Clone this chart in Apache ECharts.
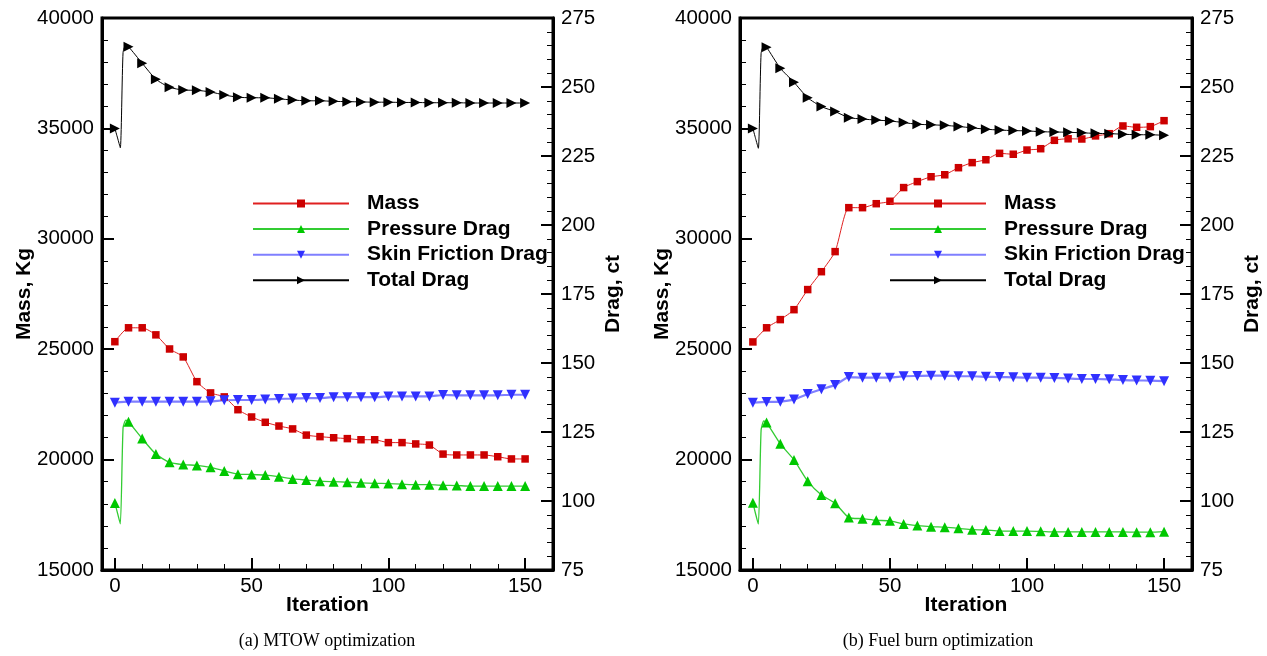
<!DOCTYPE html>
<html>
<head>
<meta charset="utf-8">
<script src="https://cdn.jsdelivr.net/npm/echarts@6/dist/echarts.min.js"></script>
<style>
html,body{margin:0;padding:0;background:#fff;}
#chart{width:1267px;height:656px;}
</style>
</head>
<body>
<div id="chart"></div>
<script>
// ---------- data ----------
const iterations = [0,5,10,15,20,25,30,35,40,45,50,55,60,65,70,75,80,85,90,95,100,105,110,115,120,125,130,135,140,145,150];
const xMajorTicks = [0,50,100,150];
const xMinorTicks = [10,20,30,40,60,70,80,90,110,120,130,140];
const seriesNames = ['Mass','Pressure Drag','Skin Friction Drag','Total Drag'];
const captionA = '(a) MTOW optimization';
const captionB = '(b) Fuel burn optimization';

// (a) MTOW optimization
const massA = [25340,25970,25970,25650,25010,24650,23530,23020,22840,22260,21930,21690,21520,21390,21110,21040,20990,20950,20900,20900,20770,20770,20710,20660,20250,20210,20210,20210,20130,20030,20030];
const pressA = [99.3,128.7,122.6,117.0,114.0,113.2,112.9,112.2,110.9,109.7,109.6,109.4,108.8,108.0,107.6,107.2,107.0,106.8,106.6,106.4,106.3,106.1,105.9,105.9,105.7,105.6,105.4,105.4,105.4,105.4,105.4];
const skinA = [135.6,136.0,136.0,136.0,136.0,136.0,136.0,136.1,136.5,136.6,136.6,136.8,137.0,137.1,137.3,137.3,137.6,137.6,137.6,137.6,137.9,137.9,137.9,137.9,138.4,138.3,138.3,138.3,138.3,138.5,138.5];
const totalA = [235.0,264.6,258.6,252.8,249.9,248.9,248.8,248.2,247.1,246.3,246.1,246.1,245.7,245.3,245.0,245.0,244.8,244.7,244.6,244.5,244.5,244.4,244.4,244.3,244.3,244.3,244.2,244.2,244.2,244.2,244.2];
// intermediate (unmarked) iterations
const pressAExtra = [[1,95.5],[2,91.7],[3,126.5],[4,129.3]];
const totalAExtra = [[1,231.5],[2,228.0],[3,262.5],[4,265.3]];

// (b) Fuel burn optimization
const massB = [25330,25970,26340,26790,27700,28510,29420,31410,31410,31590,31700,32320,32590,32810,32900,33220,33450,33580,33870,33830,34020,34080,34460,34530,34520,34660,34760,35110,35050,35080,35350];
const pressB = [99.4,128.4,120.7,114.9,107.2,102.2,99.2,94.0,93.6,93.0,92.8,91.7,91.1,90.7,90.5,90.1,89.6,89.5,89.1,89.1,89.1,89.0,88.8,88.8,88.8,88.8,88.8,88.8,88.7,88.7,88.9];
const skinB = [135.6,135.9,136.0,136.8,138.8,140.5,142.0,144.9,144.7,144.7,144.7,145.2,145.3,145.4,145.4,145.2,145.2,145.0,144.9,144.8,144.7,144.7,144.6,144.4,144.2,144.2,144.1,143.8,143.7,143.6,143.4];
const totalB = [235.0,264.4,256.8,251.7,246.1,242.9,241.1,238.9,238.4,238.0,237.7,237.1,236.5,236.3,236.1,235.7,235.2,234.7,234.4,234.2,234.1,233.8,233.7,233.6,233.4,233.2,233.1,232.9,232.7,232.7,232.5];
const pressBExtra = [[1,95.3],[2,91.6],[3,125.7],[4,129.0]];
const totalBExtra = [[1,231.3],[2,227.8],[3,262.2],[4,265.0]];

// ---------- helpers ----------
const SANS = '"Liberation Sans", Arial, Helvetica, sans-serif';
function buildData(vals, extra) {
  const pts = iterations.map((it, i) => ({ value: [it, vals[i]] }));
  (extra || []).forEach(p => pts.push({ value: [p[0], p[1]], symbol: 'none' }));
  pts.sort((a, b) => a.value[0] - b.value[0]);
  return pts;
}
const styles = {
  'Mass': { symbol: 'rect', symbolSize: 7.5, symbolRotate: 0, marker: '#cc0000', line: '#e02020', width: 1 },
  'Pressure Drag': { symbol: 'triangle', symbolSize: 10, symbolRotate: 0, marker: '#00c800', line: '#33cc33', width: 1.3 },
  'Skin Friction Drag': { symbol: 'triangle', symbolSize: 10, symbolRotate: 180, marker: '#3030ff', line: '#7f7fff', width: 2.2 },
  'Total Drag': { symbol: 'triangle', symbolSize: 10, symbolRotate: -90, marker: '#000000', line: '#000000', width: 1 }
};
function mkSeries(name, xIdx, yIdx, vals, extra) {
  const s = styles[name];
  return {
    name, type: 'line', xAxisIndex: xIdx, yAxisIndex: yIdx,
    data: buildData(vals, extra),
    symbol: s.symbol, symbolSize: s.symbolSize, symbolRotate: s.symbolRotate,
    smooth: 0.2, animation: false,
    itemStyle: { color: s.marker },
    lineStyle: { color: s.line, width: s.width },
    emphasis: { disabled: true }
  };
}
const plain = v => String(v);
const axisFont = { fontSize: 20.5, color: '#000', fontFamily: SANS };
const nameFont = { fontSize: 21, fontWeight: 'bold', color: '#000', fontFamily: SANS };
function xAxes(g) {
  return [{
    type: 'value', gridIndex: g, min: -4.7, max: 160.2, position: 'bottom',
    axisLine: { show: true, onZero: false, lineStyle: { color: '#000', width: 3 } },
    axisTick: { show: true, inside: true, length: 12, customValues: xMajorTicks, lineStyle: { color: '#000', width: 2 } },
    axisLabel: Object.assign({ customValues: xMajorTicks, margin: 6, formatter: plain }, axisFont),
    splitLine: { show: false },
    name: 'Iteration', nameLocation: 'middle', nameGap: 25, nameMoveOverlap: false, nameTextStyle: nameFont
  }, {
    type: 'value', gridIndex: g, min: -4.7, max: 160.2, position: 'bottom',
    axisLine: { show: false, onZero: false },
    axisTick: { show: true, inside: true, length: 6, customValues: xMinorTicks, lineStyle: { color: '#000', width: 1 } },
    axisLabel: { show: false },
    splitLine: { show: false }
  }];
}
function yAxes(g) {
  return [{
    type: 'value', gridIndex: g, min: 15000, max: 40000, interval: 5000, position: 'left',
    axisLine: { show: true, onZero: false, lineStyle: { color: '#000', width: 3 } },
    axisTick: { show: true, inside: true, length: 12, lineStyle: { color: '#000', width: 2 } },
    minorTick: { show: true, splitNumber: 5, length: 6, lineStyle: { color: '#000', width: 1 } },
    axisLabel: Object.assign({ margin: 8, formatter: plain }, axisFont),
    splitLine: { show: false }, minorSplitLine: { show: false },
    name: 'Mass, Kg', nameLocation: 'middle', nameGap: 67, nameMoveOverlap: false, nameRotate: 90, nameTextStyle: nameFont
  }, {
    type: 'value', gridIndex: g, min: 75, max: 275, interval: 25, position: 'right',
    axisLine: { show: true, onZero: false, lineStyle: { color: '#000', width: 3 } },
    axisTick: { show: true, inside: true, length: 12, lineStyle: { color: '#000', width: 2 } },
    minorTick: { show: true, splitNumber: 5, length: 6, lineStyle: { color: '#000', width: 1 } },
    axisLabel: Object.assign({ margin: 8, formatter: plain }, axisFont),
    splitLine: { show: false }, minorSplitLine: { show: false },
    name: 'Drag, ct', nameLocation: 'middle', nameGap: 50, nameMoveOverlap: false, nameRotate: 90, nameTextStyle: nameFont
  }];
}
function legend(left) {
  return {
    data: seriesNames, orient: 'vertical', left: left, top: 188,
    itemWidth: 96, itemHeight: 10, itemGap: 4.6, padding: 5,
    selectedMode: false,
    textStyle: { fontSize: 21, fontWeight: 'bold', color: '#000', fontFamily: SANS, padding: [0, 0, 0, 13] }
  };
}

const option = {
  animation: false,
  backgroundColor: '#fff',
  grid: [
    { left: 102, top: 18, width: 451, height: 552, show: true, borderColor: '#000', borderWidth: 3, outerBoundsMode: 'none' },
    { left: 740, top: 18, width: 452, height: 552, show: true, borderColor: '#000', borderWidth: 3, outerBoundsMode: 'none' }
  ],
  xAxis: xAxes(0).concat(xAxes(1)),
  yAxis: yAxes(0).concat(yAxes(1)),
  legend: [legend(247), legend(884)],
  series: [
    mkSeries('Mass', 0, 0, massA),
    mkSeries('Pressure Drag', 0, 1, pressA, pressAExtra),
    mkSeries('Skin Friction Drag', 0, 1, skinA),
    mkSeries('Total Drag', 0, 1, totalA, totalAExtra),
    mkSeries('Mass', 2, 2, massB),
    mkSeries('Pressure Drag', 2, 3, pressB, pressBExtra),
    mkSeries('Skin Friction Drag', 2, 3, skinB),
    mkSeries('Total Drag', 2, 3, totalB, totalBExtra)
  ],
  graphic: [
    { type: 'text', x: 327, y: 641, style: { text: captionA, textAlign: 'center', textVerticalAlign: 'middle', fontSize: 18, fontFamily: '"Liberation Serif", "Times New Roman", serif', fill: '#000' } },
    { type: 'text', x: 938, y: 641, style: { text: captionB, textAlign: 'center', textVerticalAlign: 'middle', fontSize: 18, fontFamily: '"Liberation Serif", "Times New Roman", serif', fill: '#000' } }
  ]
};
const chart = echarts.init(document.getElementById('chart'), null, { renderer: 'canvas' });
chart.setOption(option);
</script>
</body>
</html>
